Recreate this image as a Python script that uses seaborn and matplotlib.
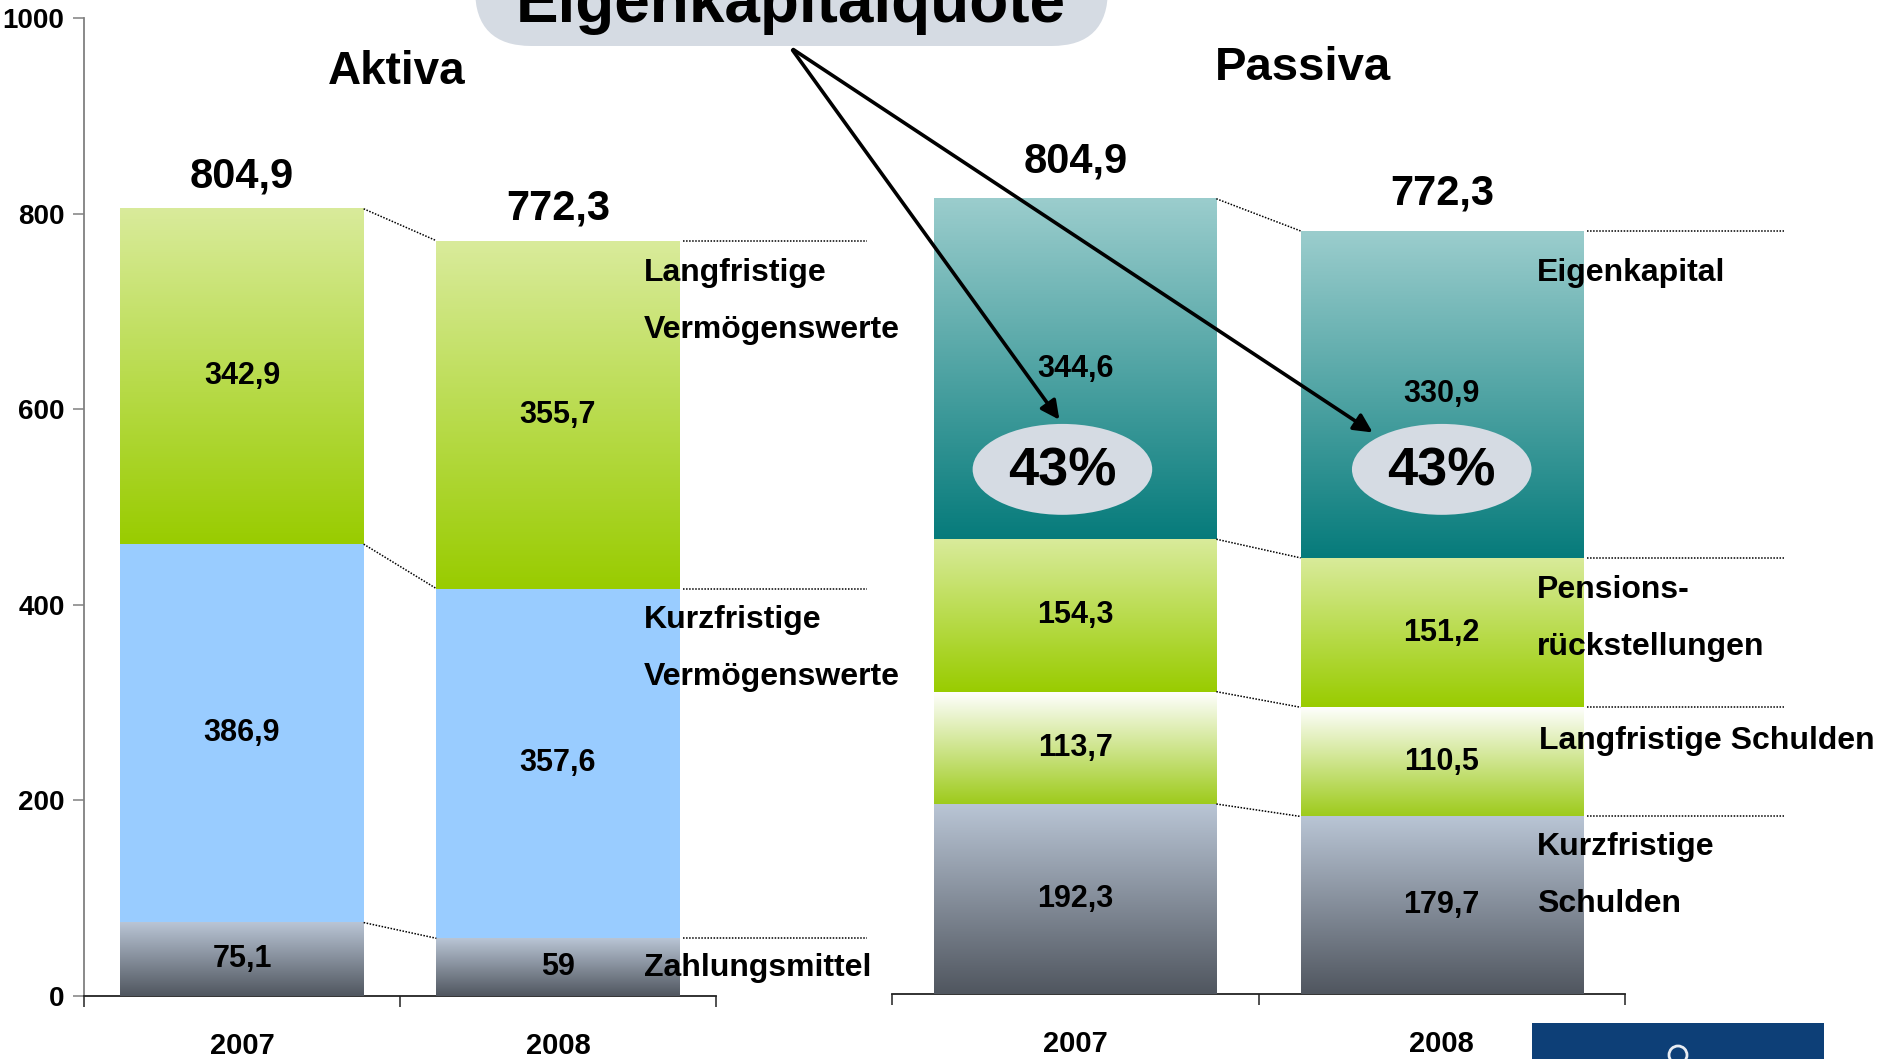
import numpy as np
import pandas as pd
import matplotlib
matplotlib.use("Agg")
import matplotlib.pyplot as plt
import seaborn as sns
from matplotlib.colors import LinearSegmentedColormap
from matplotlib.patches import FancyBboxPatch, Ellipse, Rectangle, FancyArrowPatch, Circle

# ---------------- data ----------------
years = ["2007", "2008"]
totals = [804.9, 772.3]

# Aktiva (bottom -> top)
zahlungsmittel = [75.1, 59.0]
kurzfristige_vermoegenswerte = [386.9, 357.6]
langfristige_vermoegenswerte = [342.9, 355.7]

# Passiva (bottom -> top)
kurzfristige_schulden = [192.3, 179.7]
langfristige_schulden = [113.7, 110.5]
pensionsrueckstellungen = [154.3, 151.2]
eigenkapital = [344.6, 330.9]

y_ticks = [0, 200, 400, 600, 800, 1000]

# ---------------- style ----------------
sns.set_style("white")
FONT = ["Liberation Sans Narrow", "Liberation Sans", "DejaVu Sans"]
plt.rcParams["font.family"] = FONT
plt.rcParams["font.weight"] = "bold"
for k in ["text.color", "axes.labelcolor", "xtick.color", "ytick.color"]:
    plt.rcParams[k] = "black"

BAR_W = 0.77
GRAY = ("#B9C5D5", "#50565F")
GREEN = ("#D9EB9B", "#99CC00")
WHITEGREEN = ("#FFFFFF", "#9ECB1C")
TEAL = ("#9BCDCD", "#067B7B")
BLUE = ("#99CCFF", "#99CCFF")

fig = plt.figure(figsize=(18.8, 10.59), dpi=100)
axL = fig.add_axes([84 / 1880, 63 / 1059, 632 / 1880, 978 / 1059])
axR = fig.add_axes([892 / 1880, 65 / 1059, 733 / 1880, 988 / 1059])

grad = np.linspace(0, 1, 256).reshape(-1, 1)


def fmt(v):
    if float(v).is_integer():
        return f"{int(v)}"
    return f"{v:.1f}".replace(".", ",")


def draw_stack(ax, layers, line_len, total_off):
    vals = np.array([l[0] for l in layers])
    cum = np.cumsum(vals, axis=0)
    seg_patches = [None] * len(layers)
    for i in range(len(layers) - 1, -1, -1):
        n0 = len(ax.patches)
        sns.barplot(x=years, y=cum[i], color=layers[i][1][1], width=BAR_W,
                    saturation=1, errorbar=None, ax=ax, linewidth=0, zorder=2)
        seg_patches[i] = ax.patches[n0:]
    for i, (v, (top_c, bot_c)) in enumerate(layers):
        bottoms = cum[i] - v
        for j, p in enumerate(seg_patches[i]):
            x0, w = p.get_x(), p.get_width()
            if top_c != bot_c:
                cmap = LinearSegmentedColormap.from_list(f"g{i}", [bot_c, top_c])
                ax.imshow(grad, cmap=cmap, extent=[x0, x0 + w, bottoms[j], cum[i][j]],
                          origin="lower", aspect="auto", zorder=3,
                          interpolation="bicubic")
            ax.text(x0 + w / 2, bottoms[j] + v[j] / 2, fmt(v[j]), ha="center",
                    va="center", fontsize=22, fontweight="bold", zorder=6)
    # connectors
    p0 = seg_patches[0]
    r0 = p0[0].get_x() + p0[0].get_width()
    l1 = p0[1].get_x()
    r1 = p0[1].get_x() + p0[1].get_width()
    for i in range(len(layers)):
        ax.plot([r0, l1], [cum[i][0], cum[i][1]], color="black", lw=1.1,
                ls=(0, (1, 1)), zorder=4, clip_on=False)
        ax.plot([r1 + 0.01, r1 + line_len], [cum[i][1], cum[i][1]], color="black",
                lw=1.1, ls=(0, (1, 1)), zorder=4, clip_on=False)
    # totals
    for j, p in enumerate(p0):
        ax.annotate(fmt(totals[j]), (p.get_x() + p.get_width() / 2, cum[-1][j]),
                    xytext=(0, total_off), textcoords="offset points", ha="center",
                    va="center", fontsize=30, fontweight="bold", zorder=6)
    return cum


aktiva = [(zahlungsmittel, GRAY), (kurzfristige_vermoegenswerte, BLUE),
          (langfristige_vermoegenswerte, GREEN)]
passiva = [(kurzfristige_schulden, GRAY), (langfristige_schulden, WHITEGREEN),
           (pensionsrueckstellungen, GREEN), (eigenkapital, TEAL)]

cumL = draw_stack(axL, aktiva, 0.593, 23)
cumR = draw_stack(axR, passiva, 0.55, 27)

for ax in (axL, axR):
    ax.set_xlim(-0.5, 1.5)
    ax.set_ylim(0, 1000)
    ax.set_xlabel("")
    ax.set_ylabel("")
    ax.spines["top"].set_visible(False)
    ax.spines["right"].set_visible(False)
    ax.spines["bottom"].set_color("#222222")
    ax.spines["bottom"].set_linewidth(1.3)
    ax.set_xticks([0, 1])
    ax.set_xticklabels(years, fontsize=21, fontweight="bold")
    ax.set_xticks([-0.5, 0.5, 1.5], minor=True)
    ax.tick_params(axis="x", which="major", bottom=False, length=0, pad=26)
    ax.tick_params(axis="x", which="minor", bottom=True, length=8, width=1.1,
                   direction="out", color="#222222")
    ax.patch.set_alpha(0)

axL.spines["left"].set_color("#808080")
axL.spines["left"].set_linewidth(1.3)
axL.set_yticks(y_ticks)
axL.set_yticklabels([str(t) for t in y_ticks], fontsize=20, fontweight="bold")
axL.tick_params(axis="y", left=True, length=8, width=1.1, color="#808080",
                direction="out", pad=6)

axR.spines["left"].set_visible(False)
axR.set_yticks([])

# segment names
lab_kw = dict(fontsize=23, fontweight="bold", ha="left", va="center", zorder=7)
axL.text(1.272, 739, "Langfristige", **lab_kw)
axL.text(1.272, 681, "Vermögenswerte", **lab_kw)
axL.text(1.272, 384, "Kurzfristige", **lab_kw)
axL.text(1.272, 326, "Vermögenswerte", **lab_kw)
axL.text(1.272, 29, "Zahlungsmittel", **lab_kw)

axR.text(1.26, 730, "Eigenkapital", **lab_kw)
axR.text(1.26, 409, "Pensions-", **lab_kw)
axR.text(1.26, 351, "rückstellungen", **lab_kw)
axR.text(1.265, 256, "Langfristige Schulden", **lab_kw)
axR.text(1.26, 149, "Kurzfristige", **lab_kw)
axR.text(1.26, 91, "Schulden", **lab_kw)

# panel titles
fig.text(397 / 1880, 1 - 72 / 1059, "Aktiva", ha="center", va="center",
         fontsize=33, fontweight="bold")
fig.text(1303 / 1880, 1 - 68 / 1059, "Passiva", ha="center", va="center",
         fontsize=34, fontweight="bold")

# equity ratio ellipses
eq_ratio = [round(100 * e / t) for e, t in zip(eigenkapital, totals)]
ell_x = [-0.035, 1.0]
for j in range(2):
    axR.add_patch(Ellipse((ell_x[j], 531), 0.49, 92, facecolor="#D5DBE3",
                          edgecolor="none", zorder=7))
    axR.text(ell_x[j], 529, f"{eq_ratio[j]}%", ha="center", va="center",
             fontsize=39, fontweight="bold", zorder=8)

# Eigenkapitalquote box
box = FancyBboxPatch((475 / 1880, 1 - 46 / 1059), (1108 - 475) / 1880, 0.12,
                     boxstyle="round,pad=0,rounding_size=0.03",
                     transform=fig.transFigure, facecolor="#D5DBE3",
                     edgecolor="none", zorder=9, mutation_aspect=1880 / 1059)
fig.patches.append(box)
fig.text(791 / 1880, 1 - 22 / 1059, "Eigenkapitalquote", ha="center",
         va="baseline", fontsize=46, fontweight="bold", zorder=10)

# arrows
start = (791, 1059 - 48)
for end in [(1061, 1059 - 422), (1375, 1059 - 434)]:
    arr = FancyArrowPatch(start, end, transform=None, arrowstyle="-|>",
                          mutation_scale=28, lw=2.6, color="black", zorder=11)
    fig.patches.append(arr)

# logo block
fig.patches.append(Rectangle((1532 / 1880, 0), (1824 - 1532) / 1880, 36 / 1059,
                             transform=fig.transFigure, facecolor="#0D3F77",
                             edgecolor="none", zorder=5))
fig.patches.append(Circle((1678, 1059 - 1055), 9, transform=None, facecolor="none",
                          edgecolor="#E8ECF2", lw=2, zorder=6))

fig.savefig("out.png", dpi=100)
